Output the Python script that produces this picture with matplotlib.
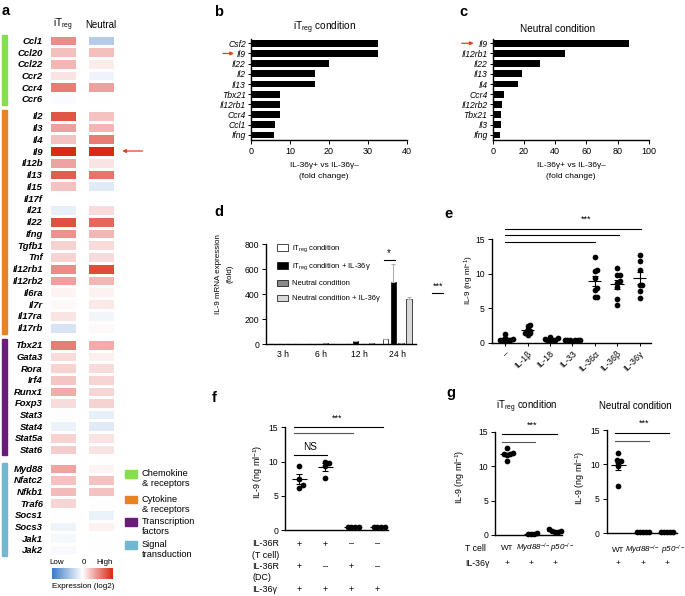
import numpy as np
import matplotlib
matplotlib.use('Agg')
import matplotlib.pyplot as plt
from matplotlib.colors import LinearSegmentedColormap, Normalize
from matplotlib.patches import Rectangle, Patch
import matplotlib.transforms as mtrans
from matplotlib.cm import ScalarMappable

plt.rcParams['font.family'] = ['Liberation Sans', 'DejaVu Sans']
plt.rcParams['mathtext.fontset'] = 'custom'
plt.rcParams['mathtext.rm'] = 'Liberation Sans'
plt.rcParams['mathtext.it'] = 'Liberation Sans:italic'
plt.rcParams['mathtext.bf'] = 'Liberation Sans:bold'

# ---------------- data ----------------
# panel a heatmap (log2 expression, scaled -1..1)
group_names = ['Chemokine\n& receptors', 'Cytokine\n& receptors', 'Transcription\nfactors', 'Signal\ntransduction']
group_colors = ['#84e04a', '#e8831f', '#6a1d78', '#73b6cf']
genes_chem = ['Ccl1', 'Ccl20', 'Ccl22', 'Ccr2', 'Ccr4', 'Ccr6']
itreg_chem = [0.50, 0.28, 0.32, 0.12, 0.58, -0.03]
neutral_chem = [-0.38, 0.28, 0.08, -0.08, 0.42, 0.0]
genes_cyto = ['Il2', 'Il3', 'Il4', 'Il9', 'Il12b', 'Il13', 'Il15', 'Il17f', 'Il21', 'Il22', 'Ifng',
              'Tgfb1', 'Tnf', 'Il12rb1', 'Il12rb2', 'Il6ra', 'Il7r', 'Il17ra', 'Il17rb']
itreg_cyto = [0.78, 0.42, 0.26, 0.98, 0.40, 0.74, 0.26, 0.0, -0.12, 0.80, 0.48, 0.20, 0.20,
              0.50, 0.42, 0.05, 0.03, 0.12, -0.20]
neutral_cyto = [0.26, 0.32, 0.58, 0.98, 0.12, 0.62, -0.15, 0.0, 0.15, 0.68, 0.32, 0.15, 0.15,
                0.82, 0.32, 0.06, 0.10, -0.07, 0.03]
genes_tf = ['Tbx21', 'Gata3', 'Rora', 'Irf4', 'Runx1', 'Foxp3', 'Stat3', 'Stat4', 'Stat5a', 'Stat6']
itreg_tf = [0.58, 0.15, 0.20, 0.25, 0.36, 0.15, 0.0, -0.10, 0.20, 0.22]
neutral_tf = [0.36, 0.07, 0.15, 0.18, 0.18, 0.20, -0.12, -0.15, 0.12, 0.12]
genes_sig = ['Myd88', 'Nfatc2', 'Nfkb1', 'Traf6', 'Socs1', 'Socs3', 'Jak1', 'Jak2']
itreg_sig = [0.40, 0.26, 0.30, 0.18, 0.0, -0.08, -0.05, -0.04]
neutral_sig = [0.04, 0.26, 0.26, 0.0, -0.10, 0.06, 0.0, 0.0]

# panel b / c
b_genes = ['Csf2', 'Il9', 'Il22', 'Il2', 'Il13', 'Tbx21', 'Il12rb1', 'Ccr4', 'Ccl1', 'Ifng']
b_fold = [32.7, 32.7, 20.0, 16.5, 16.4, 7.5, 7.4, 7.4, 6.2, 6.0]
c_genes = ['Il9', 'Il12rb1', 'Il22', 'Il13', 'Il4', 'Ccr4', 'Il12rb2', 'Tbx21', 'Il3', 'Ifng']
c_fold = [87.0, 46.5, 30.5, 19.0, 16.5, 7.0, 6.0, 5.5, 5.5, 4.5]

# panel d
d_times = ['3 h', '6 h', '12 h', '24 h']
d_series = ['iT$_{\\rm reg}$ condition', 'iT$_{\\rm reg}$ condition + IL-36\u03b3',
            'Neutral condition', 'Neutral condition + IL-36\u03b3']
d_colors = ['white', 'black', '#8a8a8a', '#d9d9d9']
d_itreg = [2, 1, 3, 40]
d_itreg_il36 = [1, 1, 25, 500]
d_neutral = [1, 8, 2, 8]
d_neutral_il36 = [1, 2, 10, 365]
d_err_itreg = [0, 0, 1, 6]
d_err_itreg_il36 = [0, 0, 4, 145]
d_err_neutral = [0, 1, 0, 2]
d_err_neutral_il36 = [0, 0, 2, 15]

# panel e
e_labels = ['\u2013', 'IL-1\u03b2', 'IL-18', 'IL-33', 'IL-36\u03b1', 'IL-36\u03b2', 'IL-36\u03b3']
e_vals = [
    [0.3, 0.4, 0.5, 0.5, 0.6, 0.7, 1.3, 0.4],
    [1.2, 1.4, 1.5, 1.6, 1.8, 2.0, 2.6, 2.5],
    [0.4, 0.5, 0.5, 0.6, 0.7, 0.8, 0.5],
    [0.3, 0.4, 0.4, 0.5, 0.4, 0.5, 0.4],
    [12.5, 10.5, 10.4, 9.4, 8.0, 7.7, 6.6, 6.6],
    [10.8, 9.9, 9.8, 9.0, 8.7, 8.1, 6.3, 5.5],
    [12.7, 11.8, 10.5, 8.4, 8.4, 7.5, 6.5],
]

# panel f
f_vals = [
    [9.4, 7.5, 6.2, 6.6],
    [9.75, 10.0, 9.4, 7.55],
    [0.45, 0.45, 0.45, 0.45],
    [0.45, 0.45, 0.45, 0.45],
]
f_rows = ['IL-36R\n(T cell)', 'IL-36R\n(DC)', 'IL-36\u03b3']
f_signs = [['+', '+', '\u2013', '\u2013'], ['+', '\u2013', '+', '\u2013'], ['+', '+', '+', '+']]

# panel g
g_labels = ['WT', 'Myd88$^{\u2212/\u2212}$', 'p50$^{\u2212/\u2212}$']
g_itreg_vals = [
    [11.85, 11.7, 11.6, 12.7, 10.7, 11.7],
    [0.2, 0.2, 0.25, 0.2],
    [0.6, 0.4, 0.8, 0.6, 0.5],
]
g_neutral_vals = [
    [10.55, 11.7, 10.2, 10.6, 9.7, 6.8],
    [0.2, 0.2, 0.25, 0.2, 0.2],
    [0.2, 0.25, 0.2, 0.2, 0.2],
]

# ---------------- figure ----------------
W, H = 685, 596
fig = plt.figure(figsize=(W / 100, H / 100), dpi=100)


def rect(x0, y0, x1, y1):
    return fig.add_axes([x0 / W, 1 - y1 / H, (x1 - x0) / W, (y1 - y0) / H])


def ftext(x, y, s, **kw):
    kw.setdefault('ha', 'center')
    kw.setdefault('va', 'center')
    return fig.text(x / W, 1 - y / H, s, **kw)


def letter(x, y, s):
    ftext(x, y, s, fontsize=10.5, fontweight='bold', ha='left')


RED = '#e2401f'
FS = 6.2

# ---------------- panel a ----------------
cmap = LinearSegmentedColormap.from_list(
    'expr', [(0, '#3a78c9'), (0.5, '#ffffff'), (0.72, '#ec9b98'), (1.0, '#d8280c')])
norm = Normalize(-1, 1)
groups = [(genes_chem, itreg_chem, neutral_chem, 34.8, 104.6),
          (genes_cyto, itreg_cyto, neutral_cyto, 109.8, 333.5),
          (genes_tf, itreg_tf, neutral_tf, 339.2, 455.1),
          (genes_sig, itreg_sig, neutral_sig, 462.5, 555.8)]
heat_axes = []
for gi, (genes, it, ne, y0, y1) in enumerate(groups):
    ax = rect(49.3, y0, 115.3, y1)
    n = len(genes)
    arr = np.ma.masked_invalid(np.column_stack([it, np.full(n, np.nan), ne]))
    ax.pcolormesh([0, 28, 38, 66], np.arange(n + 1), arr, cmap=cmap, norm=norm,
                  edgecolors='white', linewidth=0.9)
    ax.set_xlim(0, 66)
    ax.set_ylim(n, 0)
    ax.set_yticks(np.arange(n) + 0.5)
    ax.set_yticklabels(genes, fontstyle='italic', fontweight='bold', fontsize=6.8)
    ax.set_xticks([])
    ax.tick_params(axis='y', length=0, pad=4.6)
    for s in ax.spines.values():
        s.set_visible(False)
    fig.patches.append(Rectangle((2 / W, 1 - y1 / H), 4.6 / W, (y1 - y0) / H,
                                 transform=fig.transFigure, color=group_colors[gi]))
    heat_axes.append(ax)

ftext(63, 25, 'iT$_{\\rm reg}$', fontsize=7)
ftext(101, 25, 'Neutral', fontsize=7)
letter(2, 11, 'a')

# arrow at Il9
ax2 = heat_axes[1]
il9_row = genes_cyto.index('Il9') + 0.5
tr_head = mtrans.offset_copy(ax2.get_yaxis_transform(), fig=fig, x=5, y=0, units='points')
tr_tail = mtrans.offset_copy(ax2.get_yaxis_transform(), fig=fig, x=19.5, y=0, units='points')
ax2.annotate('', xy=(1, il9_row), xycoords=tr_head, xytext=(1, il9_row), textcoords=tr_tail,
             arrowprops=dict(arrowstyle='-|>', color=RED, lw=0.9, mutation_scale=5,
                             shrinkA=0, shrinkB=0), annotation_clip=False)

# colorbar
cax = rect(51.7, 568.3, 113.3, 579.3)
cb = fig.colorbar(ScalarMappable(norm=norm, cmap=cmap), cax=cax, orientation='horizontal')
cb.set_ticks([])
cb.outline.set_visible(False)
ftext(57, 563, 'Low', fontsize=5.8)
ftext(83.5, 563, '0', fontsize=5.8)
ftext(104.5, 563, 'High', fontsize=5.8)
ftext(83, 586, 'Expression (log2)', fontsize=5.8)

# group legend
leg_y = [474, 499.5, 522, 545]
for gi, yy in enumerate(leg_y):
    fig.patches.append(Rectangle((125 / W, 1 - (yy + 3.8) / H), 12 / W, 7.6 / H,
                                 transform=fig.transFigure, color=group_colors[gi]))
    ftext(141.5, yy - 5, group_names[gi], fontsize=6.7, ha='left', va='top', linespacing=1.2)


# ---------------- panels b, c ----------------
def style_axes(ax, lw=1.0):
    for s in ['top', 'right']:
        ax.spines[s].set_visible(False)
    for s in ['left', 'bottom']:
        ax.spines[s].set_linewidth(lw)
    ax.tick_params(width=0.7, length=3, labelsize=FS, pad=2)


def bar_panel(box, genes, vals, xmax, xt, title, title_xy, lab_x):
    ax = rect(*box)
    y = np.arange(len(genes))
    ax.barh(y, vals, height=0.66, color='black')
    ax.set_ylim(len(genes) - 0.5, -0.42)
    ax.set_xlim(0, xmax)
    ax.set_xticks(xt)
    ax.set_yticks(y)
    ax.set_yticklabels(genes, fontstyle='italic', fontsize=6.0)
    style_axes(ax)
    ax.tick_params(axis='x', labelsize=6.5)
    ax.tick_params(axis='y', length=2.5, pad=1.2)
    ftext(title_xy[0], title_xy[1], title, fontsize=7.2)
    ftext(lab_x, 165.7, 'IL-36\u03b3+ vs IL-36\u03b3\u2013', fontsize=6.0)
    ftext(lab_x, 176, '(fold change)', fontsize=6.0)
    return ax


axb = bar_panel((251, 39, 406.7, 140), b_genes, b_fold, 40, [0, 10, 20, 30, 40],
                'iT$_{\\rm reg}$ condition', (325, 28), 324)
axc = bar_panel((492.7, 39, 649, 140), c_genes, c_fold, 100, [0, 20, 40, 60, 80, 100],
                'Neutral condition', (558, 29), 571)
letter(214, 12, 'b')
letter(459, 12, 'c')

for ax, genes, tail, head in [(axb, b_genes, -28, -17), (axc, c_genes, -31, -19)]:
    row = genes.index('Il9')
    th = mtrans.offset_copy(ax.get_yaxis_transform(), fig=fig, x=head * 0.72, y=0, units='points')
    tt = mtrans.offset_copy(ax.get_yaxis_transform(), fig=fig, x=tail * 0.72, y=0, units='points')
    ax.annotate('', xy=(0, row), xycoords=th, xytext=(0, row), textcoords=tt,
                arrowprops=dict(arrowstyle='-|>', color=RED, lw=0.9, mutation_scale=5,
                                shrinkA=0, shrinkB=0), annotation_clip=False)

# ---------------- panel d ----------------
axd = rect(266, 244.3, 416, 344.3)
xg = np.arange(len(d_times))
d_vals = [d_itreg, d_itreg_il36, d_neutral, d_neutral_il36]
d_errs = [d_err_itreg, d_err_itreg_il36, d_err_neutral, d_err_neutral_il36]
offs = [-0.315, -0.105, 0.105, 0.315]
for k in range(4):
    axd.bar(xg + offs[k], d_vals[k], width=0.135, color=d_colors[k], edgecolor='black', lw=0.5,
            yerr=[np.zeros(4), d_errs[k]], label=d_series[k],
            error_kw=dict(ecolor='#b0b0b0', elinewidth=0.8, capsize=1.5, capthick=0.8))
axd.set_xlim(-0.46, 3.5)
axd.set_ylim(0, 800)
axd.set_yticks([0, 200, 400, 600, 800])
axd.set_xticks(xg)
axd.set_xticklabels(d_times)
style_axes(axd)
axd.tick_params(axis='x', length=0, pad=4)
handles = [Patch(facecolor=d_colors[k], edgecolor='black', lw=0.5) for k in range(4)]
axd.legend(handles, d_series, loc='upper left', frameon=False, fontsize=5.5,
           bbox_to_anchor=(276.7 / W, 1 - 243.5 / H), bbox_transform=fig.transFigure,
           borderpad=0, borderaxespad=0, handlelength=1.45, handleheight=0.9,
           handletextpad=0.5, labelspacing=0.95)
# significance over 24 h iTreg pair
axd.plot([3 + offs[0] - 0.03, 3 + offs[1] + 0.05], [675, 675], color='black', lw=0.8, clip_on=False)
axd.text(3 + (offs[0] + offs[1]) / 2, 690, '*', ha='center', va='bottom', fontsize=7)
ftext(218.5, 274, 'IL-9 mRNA expression', fontsize=5.8, rotation=90)
ftext(230, 274, '(fold)', fontsize=5.8, rotation=90)
ftext(438, 286, '***', fontsize=6.5)
fig.add_artist(plt.Line2D([432.3 / W, 443.3 / W], [1 - 292.7 / H, 1 - 292.7 / H], color='black', lw=0.8))
letter(214, 212, 'd')


# ---------------- helpers for dot plots ----------------
def swarm_x(ax, xc, vals, min_px):
    bb = ax.get_position()
    x0, x1 = ax.get_xlim()
    y0, y1 = ax.get_ylim()
    sx = bb.width * W / (x1 - x0)
    sy = bb.height * H / (y1 - y0)
    vals = np.asarray(vals, float)
    offs_ = np.zeros(len(vals))
    placed = []
    for i in np.argsort(vals):
        py = vals[i] * sy
        cands = [0.0]
        for k in range(1, 30):
            cands += [k * min_px / 2, -k * min_px / 2]
        for c in cands:
            if all((c - px) ** 2 + (py - qy) ** 2 >= min_px ** 2 for px, qy in placed):
                break
        placed.append((c, py))
        offs_[i] = c / sx
    return xc + offs_


def dots(ax, groups_vals, min_px=4.2, half=0.3, cap=2.2, s=17):
    for i, v in enumerate(groups_vals):
        v = np.asarray(v, float)
        xs = swarm_x(ax, i, v, min_px)
        ax.scatter(xs, v, s=s, color='black', zorder=3, clip_on=False, linewidths=0)
        m = v.mean()
        sem = v.std(ddof=1) / np.sqrt(len(v))
        ax.hlines(m, i - half, i + half, color='black', lw=0.8, zorder=4)
        ax.errorbar(i, m, yerr=sem, color='black', lw=0.8, capsize=cap, capthick=0.8, zorder=4)


def sig(ax, x0, x1, y, color='black'):
    ax.plot([x0, x1], [y, y], color=color, lw=0.8, clip_on=False)


def dot_axes(ax, ncat, xlim):
    ax.set_xlim(*xlim)
    ax.set_ylim(0, 15)
    ax.set_yticks([0, 5, 10, 15])
    style_axes(ax)
    ax.set_xticks(np.arange(ncat))


# ---------------- panel e ----------------
axe = rect(491.7, 239.3, 650.7, 343)
dot_axes(axe, len(e_labels), (-0.6, 6.5))
axe.set_xticklabels(e_labels, rotation=45, ha='right', rotation_mode='anchor', fontsize=6.3)
axe.tick_params(axis='x', length=2.5, pad=2)
dots(axe, e_vals, min_px=2.6)
sig(axe, 0, 4, 14.65)
sig(axe, 0, 5.1, 15.62)
sig(axe, 0, 6.08, 16.49)
axe.text(3.6, 17.3, '***', ha='center', va='bottom', fontsize=6.5, clip_on=False)
ftext(469, 280, 'IL-9 (ng ml$^{-1}$)', fontsize=5.9, rotation=90)
letter(444, 214, 'e')

# ---------------- panel f ----------------
axf = rect(285, 427.3, 388.3, 530)
dot_axes(axf, 4, (-0.55, 3.42))
axf.set_xticklabels([])
axf.tick_params(axis='x', length=0)
dots(axf, f_vals, min_px=3.8)
sig(axf, -0.22, 1.08, 11.0)
axf.text(0.42, 11.4, 'NS', ha='center', va='bottom', fontsize=7.2)
sig(axf, -0.22, 2.05, 14.2, '#555555')
sig(axf, -0.22, 3.2, 15.0)
axf.text(1.45, 15.7, '***', ha='center', va='bottom', fontsize=6.5, clip_on=False)
ftext(258.3, 472, 'IL-9 (ng ml$^{-1}$)', fontsize=6.4, rotation=90)
tf_f = mtrans.blended_transform_factory(axf.transData, fig.transFigure)
row_y = [544, 566.7, 589.3]
for r, lab in enumerate(f_rows):
    ftext(252.5, row_y[r] - 4.6, lab, fontsize=6.4, ha='left', va='top', linespacing=1.3)
    for i, s in enumerate(f_signs[r]):
        axf.text(i, 1 - row_y[r] / H, s, transform=tf_f, ha='center', va='center', fontsize=6.5)
letter(212, 398, 'f')


# ---------------- panel g ----------------
def g_panel(box, vals, title, title_xy, ylab_x, ylab_y, xlim, lab_y, lab_shift, sigs):
    ax = rect(*box)
    dot_axes(ax, 3, xlim)
    ax.set_xticklabels([])
    ax.tick_params(axis='x', length=0)
    dots(ax, vals, min_px=3.0, half=0.3)
    for (a, b, yv, col) in sigs:
        sig(ax, a, b, yv, col)
    ax.text(1.05, 15.3, '***', ha='center', va='bottom', fontsize=6.5, clip_on=False)
    ftext(title_xy[0], title_xy[1], title, fontsize=7)
    ftext(ylab_x, ylab_y, 'IL-9 (ng ml$^{-1}$)', fontsize=6.4, rotation=90)
    tr = mtrans.blended_transform_factory(ax.transData, fig.transFigure)
    for i, lab in enumerate(g_labels):
        ax.text(i + lab_shift[i], 1 - lab_y / H, lab, transform=tr, ha='center', va='center',
                fontsize=5.8, fontstyle='normal' if i == 0 else 'italic')
        ax.text(i, 1 - 563.3 / H, '+', transform=tr, ha='center', va='center', fontsize=6)
    return ax


axg1 = g_panel((495, 431.7, 561.7, 535), g_itreg_vals, 'iT$_{\\rm reg}$ condition', (527, 406.7),
               460, 477, (-0.5, 2.3), 548.3, [0.0, 0.1, 0.3],
               [(-0.22, 1.2, 13.45, '#555555'), (-0.22, 2.1, 14.66, 'black')])
axg2 = g_panel((606.7, 430, 676.7, 533.3), g_neutral_vals, 'Neutral condition', (635, 406),
               580, 478, (-0.48, 2.41), 550, [0.0, 0.0, 0.25],
               [(-0.15, 1.25, 13.4, '#555555'), (-0.15, 2.1, 14.6, 'black')])
ftext(465, 548.3, 'T cell', fontsize=6.3, ha='left')
ftext(465, 563.3, 'IL-36\u03b3', fontsize=6.3, ha='left')
letter(446, 393, 'g')

fig.savefig('out.png', dpi=100)
